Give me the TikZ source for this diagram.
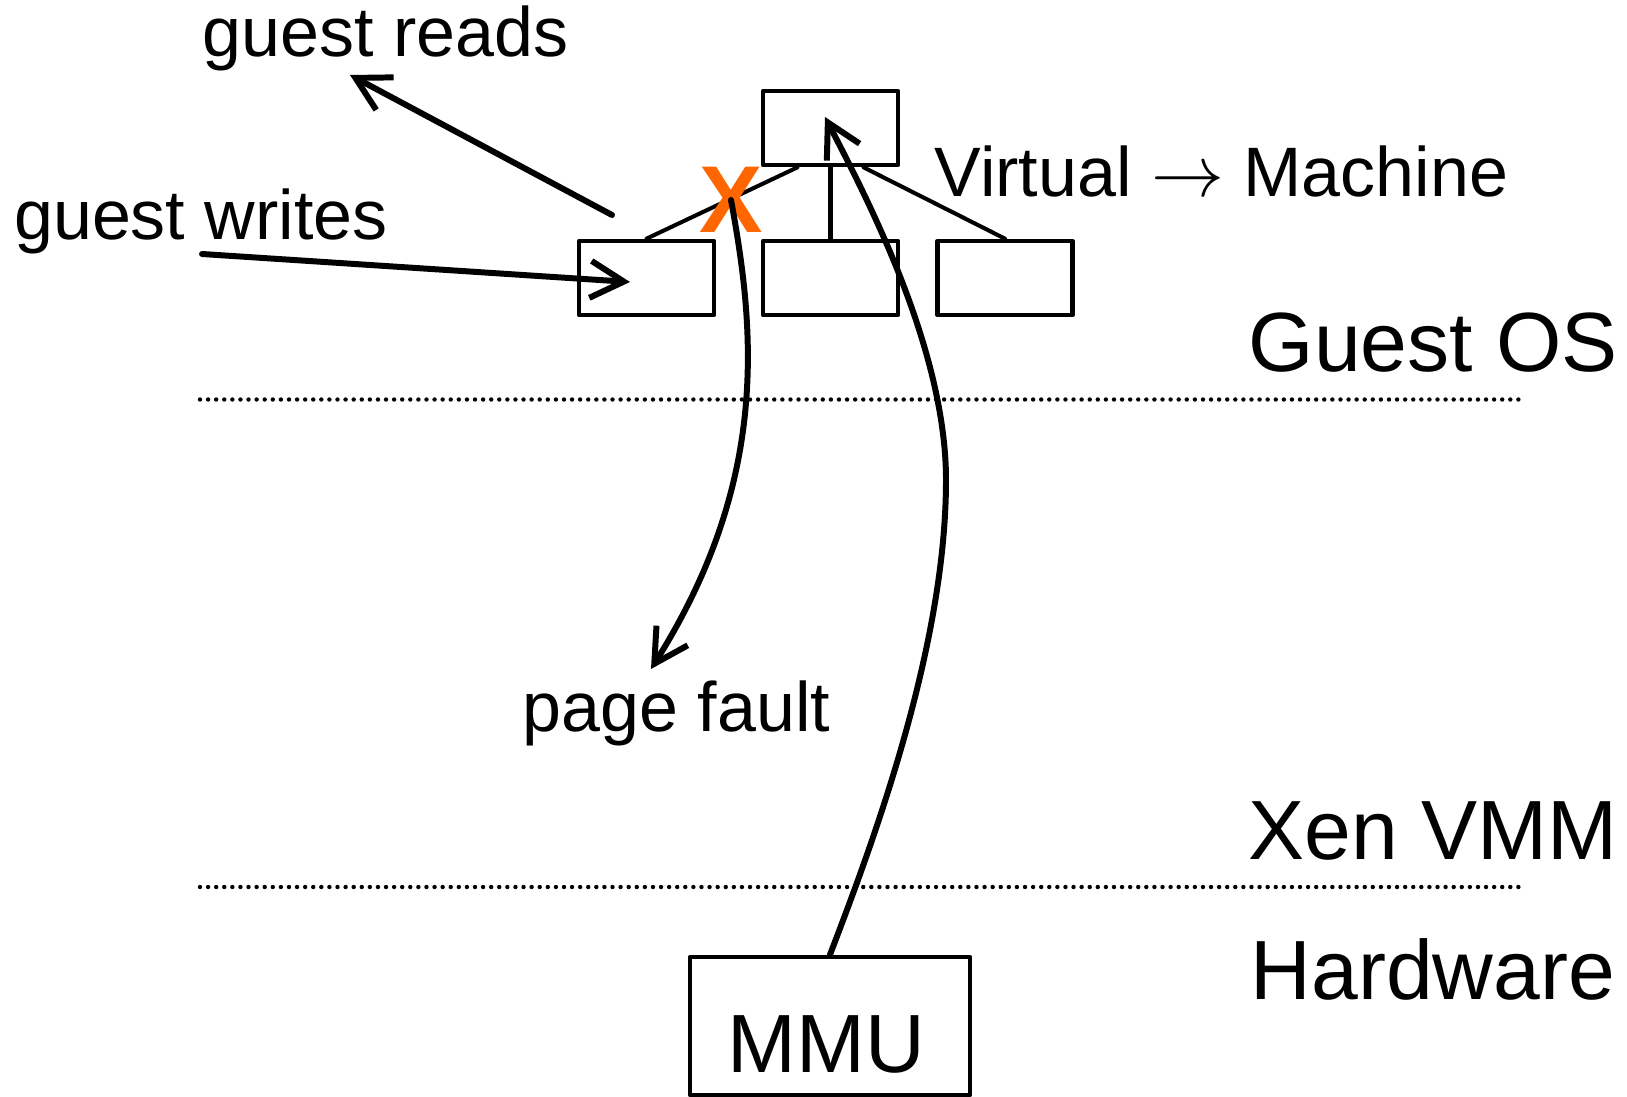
\documentclass[tikz,border=0pt]{standalone}
\usepackage{fontspec}
\setmainfont{Liberation Sans}
\usetikzlibrary{arrows.meta,calc}
\definecolor{xorange}{rgb}{1.,0.4,0.}
\tikzset{
  pgbox/.style={draw,line width=1.3pt,minimum width=1.35cm,minimum height=0.74cm,inner sep=0pt},
  mmubox/.style={draw,line width=1.3pt,minimum width=2.8cm,minimum height=1.38cm,inner sep=0pt},
  lbl/.style={inner sep=0pt,anchor=base west,font=\fontsize{19.9}{24}\selectfont},
  layer/.style={inner sep=0pt,anchor=base west,font=\fontsize{23.9}{28}\selectfont},
  sep/.style={line width=1.25pt,dash pattern=on 0pt off 2.3pt,line cap=round},
  flow/.style={->,line width=1.7pt},
  tree/.style={line width=1.15pt},
}
\begin{document}
\begin{tikzpicture}[x=0.01cm,y=-0.01cm,line cap=round,line join=round,>={Straight Barb[length=9.5pt,width=10.5pt]}]
\useasboundingbox (0,0) rectangle (1627,1097);
% page table tree
\node[pgbox] (root) at (830.5,128) {};
\node[pgbox] (c1) at (646.5,278) {};
\node[pgbox] (c2) at (830.5,278) {};
\node[pgbox] (c3) at (1005,278) {};
\draw[tree] ($(root.south)+(-33,0)$) -- (c1.north);
\draw[tree] (root.south) -- (c2.north);
\draw[tree] ($(root.south)+(33,0)$) -- (c3.north);
\node[inner sep=0pt,text=xorange,font=\fontsize{27}{30}\bfseries\selectfont] (cross) at (731,200) {X};
% labels
\node[lbl] (reads) at (202,57) {guest reads};
\node[lbl] (writes) at (13.5,240) {guest writes};
\node[lbl] (v2m) at (934,197) {Virtual $\rightarrow$ Machine};
\node[lbl] (fault) at (522,731) {page fault};
\node[layer] (gos) at (1248,371) {Guest OS};
\node[layer] (xen) at (1248,859) {Xen VMM};
\node[layer] (hw) at (1250,999) {Hardware};
% layer separators
\draw[sep] (200,399.5) -- (1526,399.5);
\draw[sep] (200,887) -- (1526,887);
% MMU
\node[mmubox] (mmu) at (830,1026) {};
\node[inner sep=0pt,anchor=base,font=\fontsize{23.5}{28}\selectfont] (mmutxt) at (826,1072) {MMU};
% arrows
\coordinate (rdfrom) at (612,215);
\coordinate (rdto) at (350,75);
\coordinate (wrfrom) at (202,254);
\coordinate (wrto) at (630,282);
\coordinate (faulttip) at (651,669);
\coordinate (mmutip) at (825,117);
\draw[flow] (rdfrom) -- (rdto);
\draw[flow] (wrfrom) -- (wrto);
\draw[flow] (cross.center) .. controls (755,330) and (770,480) .. (faulttip);
\draw[flow] (mmu.north) .. controls (870,850) and (946,650) .. (946,480) .. controls (946,350) and (868,200) .. (mmutip);
\end{tikzpicture}
\end{document}
